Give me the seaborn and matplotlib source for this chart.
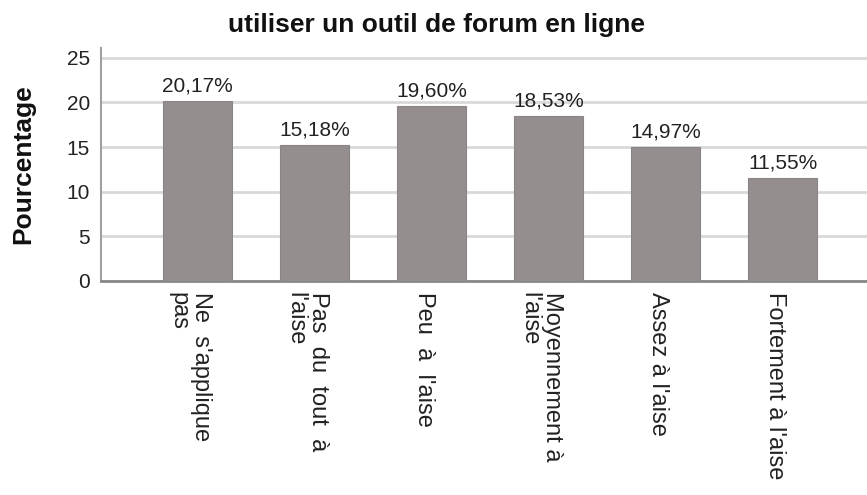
import matplotlib
matplotlib.use("Agg")
import matplotlib.pyplot as plt
import matplotlib.transforms as mtransforms
import seaborn as sns
import pandas as pd

categories = [
    "Ne  s'applique\npas",
    "Pas  du  tout  à\nl'aise",
    "Peu  à  l'aise",
    "Moyennement à\nl'aise",
    "Assez à l'aise",
    "Fortement à l'aise",
]
percentages = [20.17, 15.18, 19.60, 18.53, 14.97, 11.55]
y_ticks = [0, 5, 10, 15, 20, 25]

title = "utiliser un outil de forum en ligne"
y_label = "Pourcentage"

sns.set_theme(style="white")
plt.rcParams["font.family"] = ["Liberation Sans", "DejaVu Sans"]

df = pd.DataFrame({"cat": categories, "pct": percentages})

W, H = 867, 495
fig = plt.figure(figsize=(W / 100, H / 100), dpi=100)
ax = fig.add_axes([101 / W, 1 - 281 / H, 766 / W, (281 - 48) / H])

sns.barplot(data=df, x="cat", y="pct", color="#948f8e", saturation=1,
            width=0.59, edgecolor="#8a8584", linewidth=0.8, ax=ax, zorder=3)

ax.set_xlim(-0.825, 5.72)
ax.set_ylim(0, 26.1)
ax.set_yticks(y_ticks)
ax.yaxis.grid(True, color="#d9d9d9", linewidth=2, zorder=0)
ax.set_axisbelow(True)

for side in ("top", "right"):
    ax.spines[side].set_visible(False)
ax.spines["left"].set_color("#a0a0a0")
ax.spines["left"].set_linewidth(1.5)
ax.spines["bottom"].set_color("#888888")
ax.spines["bottom"].set_linewidth(2)

ax.tick_params(axis="y", length=0, pad=8, labelsize=15, labelcolor="#222222")
ax.tick_params(axis="x", length=0, pad=8, labelsize=17, labelcolor="#222222")
shift = mtransforms.ScaledTranslation(-0.08, 0, fig.dpi_scale_trans)
for lbl in ax.get_xticklabels():
    lbl.set_rotation(270)
    lbl.set_ha("center")
    lbl.set_va("top")
    lbl.set_multialignment("left")
    lbl.set_linespacing(1.0)
    lbl.set_transform(lbl.get_transform() + shift)

ax.set_xlabel("")
ax.set_ylabel("")

labels = [f"{v:.2f}%".replace(".", ",") for v in percentages]
ax.bar_label(ax.containers[0], labels=labels, padding=4, fontsize=15,
             color="#222222")

fig.text(437 / W, 1 - 25 / H, title, ha="center", va="center",
         fontsize=19, fontweight="bold", color="#111111")
fig.text(23 / W, 1 - 164 / H, y_label, ha="center", va="center",
         rotation=90, fontsize=19, fontweight="bold", color="#111111")

fig.savefig("out.png", dpi=100)
